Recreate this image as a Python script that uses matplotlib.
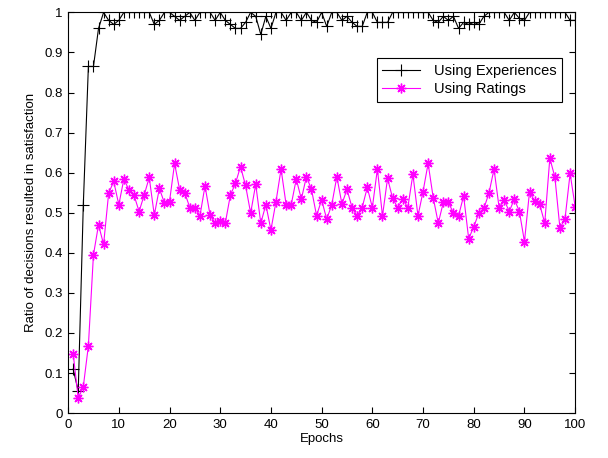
import numpy as np
import matplotlib
matplotlib.use('Agg')
import matplotlib.pyplot as plt

# Epochs and the two satisfaction ratios
epochs = np.arange(1, 101)

using_experiences = [
    0.11, 0.055, 0.52, 0.865, 0.865, 0.96, 1.0, 0.98, 0.97, 0.98,
    1.0, 1.0, 1.0, 1.0, 1.0, 1.0, 0.97, 0.98, 1.0, 1.0,
    0.99, 0.98, 0.99, 1.0, 0.98, 1.0, 1.0, 1.0, 0.98, 1.0,
    0.98, 0.97, 0.96, 0.96, 0.975, 1.0, 0.99, 0.945, 0.99, 0.96,
    1.0, 1.0, 0.98, 1.0, 1.0, 0.98, 1.0, 0.98, 0.975, 1.0,
    0.965, 1.0, 1.0, 0.98, 0.99, 0.975, 0.965, 0.965, 1.0, 1.0,
    0.975, 0.975, 0.975, 1.0, 1.0, 1.0, 1.0, 1.0, 1.0, 1.0,
    1.0, 0.98, 0.975, 0.99, 0.98, 0.99, 0.96, 0.975, 0.97, 0.975,
    0.97, 0.99, 1.0, 1.0, 1.0, 1.0, 0.98, 1.0, 0.985, 0.98,
    1.0, 1.0, 1.0, 1.0, 1.0, 1.0, 1.0, 1.0, 0.98, 0.98,
]

using_ratings = [
    0.148, 0.037, 0.066, 0.168, 0.395, 0.47, 0.421, 0.549, 0.578, 0.52,
    0.584, 0.557, 0.544, 0.503, 0.544, 0.588, 0.494, 0.561, 0.524, 0.528,
    0.623, 0.557, 0.55, 0.513, 0.513, 0.492, 0.567, 0.494, 0.474, 0.48,
    0.474, 0.544, 0.573, 0.615, 0.568, 0.499, 0.571, 0.474, 0.52, 0.457,
    0.528, 0.609, 0.52, 0.52, 0.584, 0.534, 0.59, 0.558, 0.493, 0.532,
    0.484, 0.52, 0.59, 0.522, 0.558, 0.513, 0.492, 0.513, 0.563, 0.513,
    0.609, 0.492, 0.586, 0.536, 0.513, 0.534, 0.513, 0.596, 0.492, 0.553,
    0.623, 0.538, 0.474, 0.526, 0.526, 0.499, 0.492, 0.542, 0.435, 0.465,
    0.499, 0.511, 0.549, 0.609, 0.513, 0.532, 0.503, 0.534, 0.503, 0.428,
    0.553, 0.529, 0.521, 0.474, 0.636, 0.589, 0.461, 0.485, 0.598, 0.515,
]

x_ticks = np.arange(0, 101, 10)
y_ticks = np.round(np.arange(0, 1.01, 0.1), 1)
y_tick_labels = ['0', '0.1', '0.2', '0.3', '0.4', '0.5', '0.6', '0.7', '0.8', '0.9', '1']

plt.rcParams['font.family'] = ['Liberation Sans', 'DejaVu Sans']

fig = plt.figure(figsize=(6.08, 4.58), dpi=100)
ax = fig.add_axes([0.112, 0.098, 0.834, 0.875])

# MATLAB-like look: plus markers for experiences, asterisks for ratings
ax.plot(epochs, using_experiences, color='black', linewidth=0.8, marker='+',
        markersize=8, markeredgewidth=0.8, label='Using Experiences')
ax.plot(epochs, using_ratings, color='#ff00ff', linewidth=0.8, marker=(8, 2, 0),
        markersize=7, markeredgewidth=1.0, label='Using Ratings')

ax.set_xlim(0, 100)
ax.set_ylim(0, 1)
ax.set_xticks(x_ticks)
ax.set_yticks(y_ticks)
ax.set_yticklabels(y_tick_labels)
ax.tick_params(direction='in', top=True, right=True, length=4, width=0.8,
               labelsize=9.5, pad=4)
for spine in ax.spines.values():
    spine.set_linewidth(0.8)

ax.set_xlabel('Epochs', fontsize=9.5, labelpad=2)
ax.set_ylabel('Ratio of decisions resulted in satisfaction', fontsize=9.5, labelpad=5)

leg = ax.legend(loc='upper right', bbox_to_anchor=(0.974, 0.885), fontsize=10.5,
                frameon=True, fancybox=False, framealpha=1, edgecolor='black',
                borderpad=0.4, handlelength=2.6, handletextpad=0.9,
                labelspacing=0.25, borderaxespad=0)
leg.get_frame().set_linewidth(0.8)

fig.savefig('out.png', dpi=100)
